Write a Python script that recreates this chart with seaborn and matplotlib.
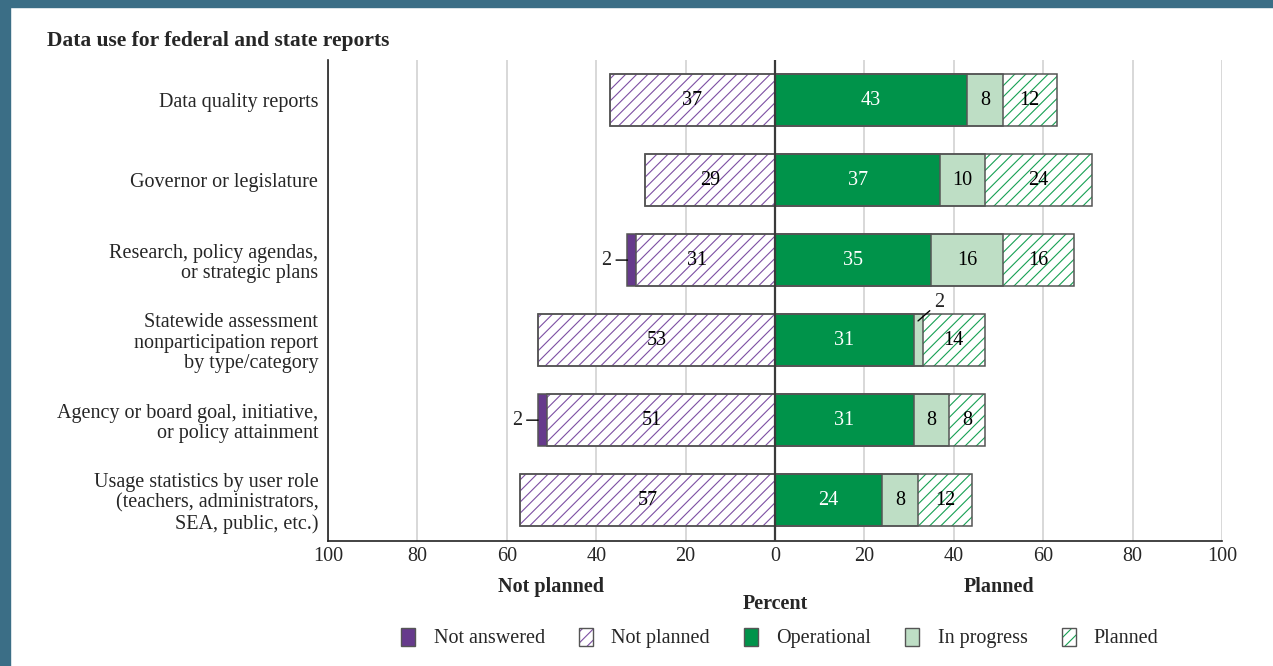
import matplotlib
matplotlib.use("Agg")
import matplotlib.pyplot as plt
import matplotlib.patches as mpatches
import matplotlib.transforms as mtransforms
import seaborn as sns
import numpy as np

# --- dati ---
categorie = [
    "Data quality reports",
    "Governor or legislature",
    "Research, policy agendas,\nor strategic plans",
    "Statewide assessment\nnonparticipation report\nby type/category",
    "Agency or board goal, initiative,\nor policy attainment",
    "Usage statistics by user role\n(teachers, administrators,\nSEA, public, etc.)",
]
not_answered = [0, 0, 2, 0, 2, 0]
not_planned = [37, 29, 31, 53, 51, 57]
operational = [43, 37, 35, 31, 31, 24]
in_progress = [8, 10, 16, 2, 8, 8]
planned = [12, 24, 16, 14, 8, 12]
tick_vals = [-100, -80, -60, -40, -20, 0, 20, 40, 60, 80, 100]

# --- colori ---
c_na = "#663a8c"
c_np = "#7d4fa3"
c_op = "#00934a"
c_ip = "#bedec5"
c_pl = "#17a054"
c_edge = "#555555"
c_border = "#3b6e86"

sns.set_style("white")
plt.rcParams["font.family"] = ["Liberation Serif", "DejaVu Serif"]
plt.rcParams["hatch.linewidth"] = 0.8

fig = plt.figure(figsize=(12.73, 6.66), dpi=100)
fig.patches.append(mpatches.Rectangle((0, 1 - 7 / 666), 1, 7 / 666, transform=fig.transFigure,
                                      color=c_border, zorder=-1))
fig.patches.append(mpatches.Rectangle((0, 0), 10 / 1273, 1, transform=fig.transFigure,
                                      color=c_border, zorder=-1))
ax = fig.add_axes([328 / 1273, 1 - 541 / 666, (1222 - 328) / 1273, (541 - 60) / 666])

na = np.array(not_answered)
npl = np.array(not_planned)
op = np.array(operational)
ip = np.array(in_progress)
pl = np.array(planned)

larghezza = 0.65
strati = [
    (-(na + npl), dict(color=c_na, linewidth=0)),
    (-npl, dict(color="white", edgecolor=c_np, hatch="///", linewidth=0)),
    (op + ip + pl, dict(color="white", edgecolor=c_pl, hatch="///", linewidth=0)),
    (op + ip, dict(color=c_ip, linewidth=0)),
    (op, dict(color=c_op, linewidth=0)),
]
for vals, kw in strati:
    sns.barplot(x=vals, y=categorie, orient="h", width=larghezza, ax=ax,
                saturation=1, **kw)

# contorni
for vals in [-(na + npl), -npl, op + ip + pl, op + ip, op]:
    sns.barplot(x=vals, y=categorie, orient="h", width=larghezza, ax=ax,
                fill=False, color=c_edge, linewidth=1.1)

ax.axvline(0, color="#3a3a3a", lw=1.6, zorder=5)

# etichette dei segmenti
fs = 14.5
for i in range(len(categorie)):
    segs = [
        (-(na[i] + npl[i] / 2), npl[i], "black"),
        (op[i] / 2, op[i], "white"),
        (op[i] + ip[i] / 2, ip[i], "black"),
        (op[i] + ip[i] + pl[i] / 2, pl[i], "black"),
    ]
    for xc, v, col in segs:
        if v >= 3:
            ax.text(xc, i, str(v), ha="center", va="center", color=col,
                    fontsize=fs, zorder=6)
    if 0 < na[i] < 3:
        xe = -(na[i] + npl[i])
        ax.annotate(str(na[i]), xy=(xe, i), xytext=(xe - 3.6, i), ha="right",
                    va="center", fontsize=fs,
                    arrowprops=dict(arrowstyle="-", color="black", lw=1,
                                    shrinkA=1, shrinkB=0))
    if 0 < ip[i] < 3:
        ax.annotate(str(ip[i]), xy=(op[i] + ip[i] / 2, i - 0.24),
                    xytext=(op[i] + ip[i] + 2.6, i - 0.47), ha="left",
                    va="center", fontsize=fs,
                    arrowprops=dict(arrowstyle="-", color="black", lw=1,
                                    shrinkA=1, shrinkB=0))

# assi
ax.set_xlim(-100, 100)
ax.set_ylim(5.51, -0.5)
ax.set_xticks(tick_vals)
ax.set_xticklabels([str(abs(t)) for t in tick_vals], fontsize=fs)
ax.tick_params(axis="both", length=0, labelsize=fs)
ax.tick_params(axis="x", pad=4)
ax.tick_params(axis="y", pad=7)
for lbl in ax.get_yticklabels():
    lbl.set_linespacing(1.1)
ax.grid(axis="x", color="#d6d6d6", lw=1.3)
ax.grid(axis="y", visible=False)
ax.set_axisbelow(True)
ax.set_xlabel("")
ax.set_ylabel("")
for s in ["top", "right"]:
    ax.spines[s].set_visible(False)
for s in ["left", "bottom"]:
    ax.spines[s].set_color("#222222")
    ax.spines[s].set_linewidth(1.2)

trans = mtransforms.blended_transform_factory(ax.transData, ax.transAxes)
ax.text(-50, -0.096, "Not planned", transform=trans, ha="center", va="center",
        fontsize=fs, fontweight="bold")
ax.text(50, -0.096, "Planned", transform=trans, ha="center", va="center",
        fontsize=fs, fontweight="bold")
ax.text(0, -0.131, "Percent", transform=trans, ha="center", va="center",
        fontsize=fs, fontweight="bold")

fig.text(47 / 1273, 1 - 41 / 666, "Data use for federal and state reports",
         ha="left", va="center", fontsize=15.5, fontweight="bold")

# legenda
def hatch_handle(col):
    return (mpatches.Patch(facecolor="white", edgecolor=col, hatch="///", linewidth=0),
            mpatches.Patch(facecolor="none", edgecolor=c_edge, linewidth=1))

handles = [
    mpatches.Patch(facecolor=c_na, edgecolor=c_edge, linewidth=1),
    hatch_handle(c_np),
    mpatches.Patch(facecolor=c_op, edgecolor=c_edge, linewidth=1),
    mpatches.Patch(facecolor=c_ip, edgecolor=c_edge, linewidth=1),
    hatch_handle(c_pl),
]
etichette = ["Not answered", "Not planned", "Operational", "In progress", "Planned"]
fig.legend(handles, etichette, loc="center", bbox_to_anchor=(780 / 1273, 1 - 638 / 666),
           ncol=5, frameon=False, fontsize=fs, handlelength=0.7, handleheight=1.0,
           handletextpad=0.9, columnspacing=1.7)

fig.savefig("out.png", dpi=100)
